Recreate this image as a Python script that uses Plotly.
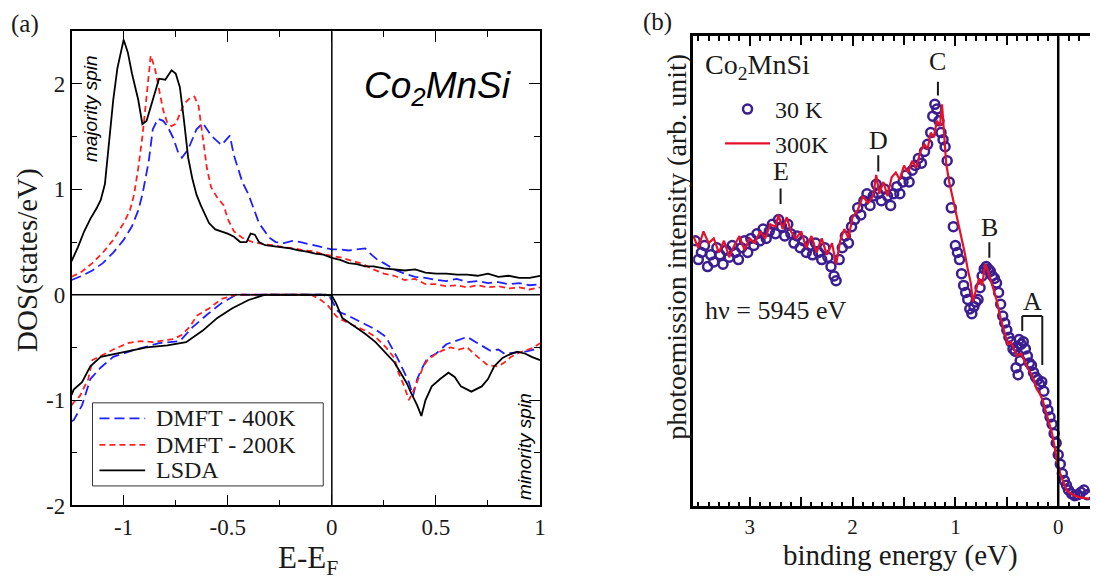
import plotly.graph_objects as go

# ---------------- Panel (a): DOS of Co2MnSi ----------------
# majority spin (positive DOS)
E_lsda_up = [-1.25,-1.22,-1.19,-1.16,-1.13,-1.11,-1.09,-1.07,-1.05,-1.03,-1.0,-0.98,-0.96,-0.93,-0.91,-0.89,-0.87,-0.85,-0.83,-0.80,-0.77,-0.75,-0.73,-0.71,-0.69,-0.67,-0.65,-0.63,-0.61,-0.59,-0.56,-0.53,-0.50,-0.47,-0.44,-0.41,-0.39,-0.37,-0.35,-0.32,-0.28,-0.24,-0.2,-0.16,-0.12,-0.08,-0.04,0.0,0.04,0.08,0.12,0.16,0.2,0.25,0.3,0.35,0.4,0.45,0.5,0.55,0.6,0.65,0.7,0.75,0.8,0.85,0.9,0.95,1.0]
dos_lsda_up = [0.32,0.45,0.6,0.72,0.82,0.9,1.05,1.45,1.85,2.15,2.42,2.3,2.1,1.85,1.62,1.65,1.78,1.92,2.05,2.04,2.13,2.1,1.97,1.65,1.3,1.1,0.95,0.85,0.76,0.68,0.62,0.6,0.58,0.55,0.5,0.5,0.58,0.57,0.5,0.47,0.46,0.45,0.44,0.42,0.41,0.39,0.38,0.35,0.33,0.3,0.29,0.27,0.27,0.25,0.24,0.23,0.24,0.21,0.2,0.2,0.19,0.19,0.18,0.2,0.17,0.18,0.16,0.16,0.18]

E_200_up = [-1.25,-1.2,-1.15,-1.1,-1.05,-1.0,-0.97,-0.95,-0.93,-0.91,-0.89,-0.87,-0.85,-0.83,-0.81,-0.79,-0.77,-0.75,-0.73,-0.71,-0.68,-0.66,-0.64,-0.62,-0.6,-0.58,-0.55,-0.52,-0.5,-0.47,-0.43,-0.38,-0.33,-0.28,-0.23,-0.18,-0.13,-0.08,-0.04,0.0,0.05,0.1,0.15,0.2,0.25,0.3,0.35,0.4,0.45,0.5,0.55,0.6,0.65,0.7,0.75,0.8,0.85,0.9,0.95,1.0]
dos_200_up = [0.17,0.22,0.3,0.4,0.52,0.68,0.8,0.95,1.2,1.5,1.88,2.27,2.15,1.94,1.75,1.63,1.6,1.62,1.72,1.81,1.87,1.88,1.79,1.5,1.2,1.02,0.92,0.85,0.72,0.6,0.54,0.5,0.48,0.47,0.45,0.44,0.42,0.41,0.38,0.37,0.35,0.32,0.29,0.24,0.2,0.18,0.14,0.15,0.1,0.1,0.08,0.09,0.07,0.09,0.07,0.08,0.06,0.07,0.05,0.07]

E_400_up = [-1.25,-1.2,-1.15,-1.1,-1.05,-1.0,-0.96,-0.93,-0.91,-0.88,-0.86,-0.835,-0.81,-0.79,-0.76,-0.74,-0.72,-0.69,-0.65,-0.62,-0.58,-0.55,-0.53,-0.49,-0.47,-0.43,-0.40,-0.35,-0.3,-0.27,-0.23,-0.19,-0.15,-0.11,-0.07,-0.03,0.0,0.04,0.08,0.12,0.16,0.19,0.22,0.25,0.3,0.35,0.4,0.45,0.5,0.55,0.6,0.65,0.7,0.75,0.8,0.85,0.9,0.95,1.0]
dos_400_up = [0.14,0.18,0.23,0.3,0.4,0.52,0.65,0.8,0.95,1.26,1.57,1.67,1.65,1.6,1.48,1.36,1.3,1.38,1.57,1.63,1.51,1.45,1.42,1.51,1.32,1.07,0.95,0.68,0.54,0.5,0.49,0.51,0.5,0.48,0.46,0.44,0.43,0.43,0.42,0.43,0.44,0.38,0.33,0.3,0.24,0.2,0.17,0.16,0.14,0.13,0.15,0.12,0.13,0.11,0.12,0.1,0.11,0.09,0.1]

# minority spin (negative DOS)
E_lsda_dn = [-1.25,-1.24,-1.2,-1.16,-1.11,-1.06,-0.98,-0.89,-0.79,-0.70,-0.62,-0.55,-0.48,-0.40,-0.32,-0.2,-0.1,-0.03,0.0,0.02,0.05,0.1,0.16,0.21,0.26,0.3,0.33,0.36,0.38,0.41,0.43,0.45,0.48,0.52,0.56,0.59,0.62,0.67,0.72,0.75,0.78,0.82,0.85,0.89,0.93,0.96,1.0]
dos_lsda_dn = [-0.95,-0.9,-0.83,-0.68,-0.59,-0.57,-0.54,-0.5,-0.48,-0.45,-0.34,-0.22,-0.13,-0.05,0.0,0.0,0.0,0.0,-0.01,-0.08,-0.22,-0.29,-0.37,-0.45,-0.56,-0.64,-0.74,-0.84,-0.93,-1.05,-1.15,-1.0,-0.87,-0.8,-0.74,-0.78,-0.87,-0.92,-0.87,-0.8,-0.68,-0.6,-0.57,-0.54,-0.56,-0.59,-0.62]

E_200_dn = [-1.25,-1.24,-1.21,-1.17,-1.15,-1.1,-1.05,-0.98,-0.92,-0.86,-0.8,-0.76,-0.72,-0.68,-0.65,-0.59,-0.53,-0.46,-0.3,-0.1,-0.06,-0.02,0.02,0.03,0.08,0.16,0.21,0.26,0.3,0.32,0.35,0.37,0.39,0.415,0.44,0.46,0.5,0.53,0.57,0.61,0.65,0.7,0.75,0.8,0.83,0.86,0.9,0.93,0.97,1.0]
dos_200_dn = [-1.05,-1.02,-0.96,-0.8,-0.62,-0.57,-0.52,-0.46,-0.44,-0.45,-0.43,-0.42,-0.38,-0.3,-0.2,-0.13,-0.04,0.0,0.0,0.0,-0.04,-0.1,-0.2,-0.22,-0.27,-0.34,-0.4,-0.5,-0.6,-0.74,-0.88,-1.0,-0.92,-0.8,-0.68,-0.62,-0.56,-0.53,-0.5,-0.52,-0.5,-0.59,-0.67,-0.68,-0.64,-0.59,-0.55,-0.53,-0.5,-0.46]

E_400_dn = [-1.25,-1.24,-1.2,-1.16,-1.11,-1.05,-0.96,-0.83,-0.73,-0.67,-0.6,-0.53,-0.46,-0.3,-0.1,-0.05,-0.01,0.03,0.08,0.16,0.21,0.26,0.32,0.37,0.39,0.41,0.43,0.46,0.5,0.55,0.59,0.62,0.65,0.7,0.76,0.8,0.83,0.88,0.93,0.97,1.0]
dos_400_dn = [-1.2,-1.19,-1.05,-0.8,-0.69,-0.59,-0.53,-0.46,-0.44,-0.31,-0.19,-0.08,0.0,0.0,0.0,0.0,-0.02,-0.16,-0.2,-0.28,-0.33,-0.4,-0.62,-0.83,-0.96,-0.8,-0.71,-0.6,-0.56,-0.47,-0.44,-0.42,-0.4,-0.46,-0.53,-0.52,-0.56,-0.55,-0.54,-0.52,-0.5]

series_names_a = ["DMFT - 400K", "DMFT - 200K", "LSDA"]

# ---------------- Panel (b): HAXPES spectra ----------------
E_300K = [3.55,3.50,3.45,3.40,3.35,3.30,3.25,3.20,3.15,3.10,3.05,3.00,2.95,2.90,2.85,2.80,2.75,2.72,2.68,2.64,2.60,2.55,2.50,2.45,2.40,2.35,2.30,2.25,2.20,2.16,2.12,2.08,2.04,2.00,1.95,1.90,1.85,1.80,1.77,1.74,1.70,1.66,1.62,1.58,1.54,1.50,1.46,1.42,1.38,1.34,1.30,1.27,1.24,1.21,1.18,1.15,1.13,1.11,1.09,1.06,1.03,1.00,0.97,0.94,0.91,0.88,0.85,0.83,0.80,0.77,0.74,0.71,0.69,0.66,0.63,0.60,0.56,0.52,0.49,0.46,0.43,0.40,0.36,0.33,0.30,0.27,0.24,0.21,0.18,0.15,0.12,0.09,0.06,0.03,0.01,-0.02,-0.05,-0.08,-0.12,-0.16,-0.20,-0.25,-0.30]
I_300K = [57.5,55.0,58.5,56.0,57.0,54.0,56.5,53.0,55.5,57.5,54.5,57.0,56.0,58.5,57.0,60.0,59.5,62.0,59.0,61.5,58.5,57.0,58.5,55.0,57.5,54.0,57.0,53.5,56.0,51.5,56.5,59.0,57.0,61.5,63.0,66.0,64.5,66.0,70.5,66.5,69.0,66.0,70.0,71.0,69.5,72.5,71.0,73.5,72.0,75.5,77.0,76.0,79.5,78.5,82.0,81.0,85.5,80.0,73.0,69.0,66.0,63.0,60.0,57.5,54.0,50.5,47.5,43.5,46.0,48.5,47.0,51.5,50.5,48.5,46.0,44.0,40.0,37.0,34.5,35.0,33.5,32.0,32.5,31.0,29.5,28.5,27.0,25.0,24.0,22.5,20.0,18.0,15.5,12.0,9.5,7.0,5.0,3.5,2.8,2.3,2.0,1.8,1.6]

E_30K = [3.53,3.50,3.47,3.44,3.41,3.38,3.35,3.32,3.29,3.26,3.23,3.20,3.17,3.14,3.11,3.08,3.05,3.02,2.99,2.96,2.93,2.90,2.87,2.84,2.81,2.78,2.75,2.72,2.69,2.66,2.63,2.60,2.57,2.54,2.51,2.48,2.45,2.42,2.39,2.36,2.33,2.30,2.27,2.24,2.21,2.18,2.16,2.13,2.10,2.07,2.04,2.01,1.98,1.95,1.92,1.89,1.86,1.83,1.80,1.77,1.75,1.72,1.69,1.66,1.63,1.60,1.57,1.54,1.51,1.48,1.45,1.42,1.39,1.36,1.33,1.30,1.27,1.24,1.22,1.20,1.18,1.16,1.14,1.12,1.10,1.08,1.06,1.04,1.02,1.00,0.98,0.96,0.94,0.92,0.90,0.88,0.86,0.84,0.82,0.80,0.78,0.76,0.74,0.72,0.70,0.68,0.66,0.64,0.62,0.60,0.58,0.56,0.54,0.52,0.50,0.48,0.46,0.44,0.42,0.41,0.40,0.39,0.38,0.37,0.36,0.34,0.32,0.30,0.28,0.26,0.24,0.22,0.20,0.18,0.16,0.14,0.12,0.10,0.08,0.06,0.04,0.02,0.00,-0.02,-0.04,-0.06,-0.08,-0.10,-0.13,-0.16,-0.19,-0.22,-0.25,-0.28]
I_30K = [56.5,52.5,54.0,55.5,51.0,53.5,52.0,55.0,53.5,51.5,54.5,53.0,55.5,54.0,52.5,55.0,56.5,54.0,57.0,55.5,58.0,56.5,59.0,57.0,58.5,60.0,58.0,61.0,59.5,57.5,60.0,58.0,56.0,57.5,55.0,56.5,54.0,55.5,53.5,56.0,54.0,52.5,55.0,53.0,51.0,49.0,48.0,52.5,55.0,57.5,56.0,59.5,61.0,63.5,62.0,65.0,66.5,64.0,66.0,68.5,66.5,65.0,67.5,66.0,64.0,66.5,68.0,66.5,69.0,70.5,69.0,71.5,72.5,74.0,73.0,75.5,77.0,79.5,83.0,85.5,84.5,82.0,79.5,78.0,76.5,73.5,69.0,63.5,59.5,55.5,54.0,52.5,49.5,47.0,45.5,44.0,42.0,41.0,42.5,43.5,44.0,46.5,49.0,50.5,51.0,50.5,50.0,49.0,48.5,47.5,45.5,43.0,40.5,39.0,37.5,36.0,35.0,33.5,33.0,29.5,34.0,28.0,35.5,31.0,34.5,35.0,33.5,32.0,30.5,30.0,28.5,27.5,27.0,26.0,26.5,24.5,22.0,20.5,19.0,17.5,15.5,13.5,11.0,9.0,7.0,5.5,4.5,3.5,2.7,2.3,2.5,3.0,3.5,2.5]

# peak labels (binding energy, label height)
peak_names = ["E", "D", "C", "B"]
peak_E = [2.70, 1.75, 1.17, 0.67]
peak_I = [71.2, 77.8, 94.6, 59.3]

SERIF = "Liberation Serif, Times New Roman, Times, serif"
SANS = "Liberation Sans, Arial, Helvetica, sans-serif"
INK = "#1a1a1a"

W, H = 1096, 584
def px(xp):
    return xp / W
def py(yp):
    return (H - yp) / H

BLUE = "#2020ff"
RED = "#ff2020"
styles_a = [dict(color=BLUE, width=1.8, dash="10px,5px"),
            dict(color=RED, width=1.8, dash="6px,4px"),
            dict(color="black", width=1.8)]

fig = go.Figure()

# Panel (a) traces
for xs, ys, st in [(E_400_up, dos_400_up, styles_a[0]), (E_200_up, dos_200_up, styles_a[1]),
                   (E_lsda_up, dos_lsda_up, styles_a[2]), (E_400_dn, dos_400_dn, styles_a[0]),
                   (E_200_dn, dos_200_dn, styles_a[1]), (E_lsda_dn, dos_lsda_dn, styles_a[2])]:
    fig.add_trace(go.Scatter(x=xs, y=ys, mode="lines", line=st, showlegend=False,
                             xaxis="x", yaxis="y"))

# Panel (b) traces
fig.add_trace(go.Scatter(x=E_30K, y=I_30K, mode="markers", name="30 K",
                         marker=dict(symbol="circle-open", size=9, color="#3b1f8f",
                                     line=dict(width=2.5, color="#3b1f8f")),
                         xaxis="x2", yaxis="y2", legend="legend2"))
fig.add_trace(go.Scatter(x=E_300K, y=I_300K, mode="lines", name="300K",
                         line=dict(color="#e4112b", width=2.2),
                         xaxis="x2", yaxis="y2", legend="legend2"))

shapes = [
    # panel (a) zero lines
    dict(type="line", xref="x", yref="y", x0=-1.25, x1=1, y0=0, y1=0, line=dict(color="black", width=1.5)),
    dict(type="line", xref="x", yref="y domain", x0=0, x1=0, y0=0, y1=1, line=dict(color="black", width=1.5)),
    # panel (b) Fermi level line
    dict(type="line", xref="x2", yref="y2 domain", x0=0, x1=0, y0=0, y1=1, line=dict(color="black", width=2.5)),
    # A bracket
    dict(type="line", xref="x2", yref="y2", x0=0.35, x1=0.155, y0=40.5, y1=40.5, line=dict(color=INK, width=2)),
    dict(type="line", xref="x2", yref="y2", x0=0.35, x1=0.35, y0=40.5, y1=37.3, line=dict(color=INK, width=2)),
    dict(type="line", xref="x2", yref="y2", x0=0.155, x1=0.155, y0=40.5, y1=30.1, line=dict(color=INK, width=2)),
    # panel (a) legend box
    dict(type="rect", xref="paper", yref="paper", x0=px(93), x1=px(325), y0=py(497), y1=py(412),
         line=dict(color="#333", width=1), fillcolor="white", layer="above"),
]
# panel (a) legend line samples
legend_rows_y = [428, 455, 481]
for st, yy in zip(styles_a, legend_rows_y):
    shapes.append(dict(type="line", xref="paper", yref="paper", x0=px(100), x1=px(146), y0=py(yy), y1=py(yy),
                       line=st, layer="above"))
# peak tick marks
tick_lo = [64.3, 71.2, 87.4, 52.9]
tick_hi = [67.6, 74.7, 90.3, 56.2]
for e, lo, hi in zip(peak_E, tick_lo, tick_hi):
    shapes.append(dict(type="line", xref="x2", yref="y2", x0=e, x1=e, y0=lo, y1=hi,
                       line=dict(color=INK, width=2)))

annotations = [
    dict(text="(a)", x=px(9), y=py(25), xref="paper", yref="paper", xanchor="left", yanchor="middle",
         showarrow=False, font=dict(family=SERIF, size=25, color=INK)),
    dict(text="(b)", x=px(645), y=py(23), xref="paper", yref="paper", xanchor="left", yanchor="middle",
         showarrow=False, font=dict(family=SERIF, size=25, color=INK)),
    dict(text="<i>Co<sub>2</sub>MnSi</i>", x=px(440), y=py(90), xref="paper", yref="paper",
         xanchor="center", yanchor="middle", showarrow=False, font=dict(family=SANS, size=37, color="black")),
    dict(text="<i>majority spin</i>", x=px(91), y=py(111), xref="paper", yref="paper", textangle=-90,
         xanchor="center", yanchor="middle", showarrow=False, font=dict(family=SANS, size=19, color="black")),
    dict(text="<i>minority spin</i>", x=px(528), y=py(457), xref="paper", yref="paper", textangle=-90,
         xanchor="center", yanchor="middle", showarrow=False, font=dict(family=SANS, size=19, color="black")),
    dict(text="DOS(states/eV)", x=px(27), y=py(266), xref="paper", yref="paper", textangle=-90,
         xanchor="center", yanchor="middle", showarrow=False, font=dict(family=SERIF, size=29, color=INK)),
    dict(text="E-E<sub>F</sub>", x=px(310), y=py(573), xref="paper", yref="paper",
         xanchor="center", yanchor="middle", showarrow=False, font=dict(family=SERIF, size=31, color=INK)),
    dict(text="photoemission intensity (arb. unit)", x=px(680), y=py(252), xref="paper", yref="paper",
         textangle=-90, xanchor="center", yanchor="middle", showarrow=False,
         font=dict(family=SERIF, size=28, color=INK)),
    dict(text="binding energy (eV)", x=px(905), y=py(568), xref="paper", yref="paper",
         xanchor="center", yanchor="middle", showarrow=False, font=dict(family=SERIF, size=29, color=INK)),
    dict(text="Co<sub>2</sub>MnSi", x=px(707), y=py(68), xref="paper", yref="paper",
         xanchor="left", yanchor="middle", showarrow=False, font=dict(family=SERIF, size=28, color=INK)),
    dict(text="hν = 5945 eV", x=3.45, y=41.7, xref="x2", yref="y2", xanchor="left", yanchor="middle",
         showarrow=False, font=dict(family=SERIF, size=26, color=INK)),
    dict(text="A", x=0.25, y=43.6, xref="x2", yref="y2", xanchor="center", yanchor="middle",
         showarrow=False, font=dict(family=SERIF, size=26, color=INK)),
]
for name, e, i in zip(peak_names, peak_E, peak_I):
    annotations.append(dict(text=name, x=e, y=i, xref="x2", yref="y2", xanchor="center", yanchor="middle",
                            showarrow=False, font=dict(family=SERIF, size=26, color=INK)))
# panel (a) legend labels
for name, yy in zip(series_names_a, legend_rows_y):
    annotations.append(dict(text=name, x=px(155), y=py(yy), xref="paper", yref="paper",
                            xanchor="left", yanchor="middle", showarrow=False,
                            font=dict(family=SERIF, size=24, color=INK)))

fig.update_layout(
    width=W, height=H,
    margin=dict(l=0, r=0, t=0, b=0),
    paper_bgcolor="white", plot_bgcolor="white",
    font=dict(family=SERIF, color=INK),
    showlegend=True,
    xaxis=dict(domain=[px(72), px(543)], range=[-1.25, 1], anchor="y",
               tickmode="array", tickvals=[-1, -0.5, 0, 0.5, 1], ticktext=["-1", "-0.5", "0", "0.5", "1"],
               ticks="inside", ticklen=11, tickwidth=1.3, tickcolor="black",
               minor=dict(tickmode="array", tickvals=[-0.75, -0.25, 0.25, 0.75], ticks="inside",
                          ticklen=6, tickwidth=1.3, tickcolor="black"),
               showline=True, linewidth=1.5, linecolor="black", mirror="ticks",
               showgrid=False, zeroline=False,
               tickfont=dict(family=SERIF, size=23, color=INK)),
    yaxis=dict(domain=[py(517), py(32)], range=[-2, 2.5], anchor="x",
               tickmode="array", tickvals=[-2, -1, 0, 1, 2], ticktext=["-2", "-1", "0", "1", "2"],
               ticks="inside", ticklen=11, tickwidth=1.3, tickcolor="black",
               minor=dict(tickmode="array", tickvals=[-1.5, -0.5, 0.5, 1.5], ticks="inside",
                          ticklen=6, tickwidth=1.3, tickcolor="black"),
               showline=True, linewidth=1.5, linecolor="black", mirror="ticks",
               showgrid=False, zeroline=False,
               tickfont=dict(family=SERIF, size=23, color=INK)),
    xaxis2=dict(domain=[px(697), 1.0], range=[3.55, -0.309], anchor="y2",
                tickmode="array", tickvals=[3, 2, 1, 0], ticktext=["3", "2", "1", "0"],
                ticks="inside", ticklen=10, tickwidth=2, tickcolor="black",
                minor=dict(dtick=0.1, tick0=0, ticks="inside", ticklen=5, tickwidth=1.8, tickcolor="black"),
                showline=True, linewidth=2.5, linecolor="black", mirror="ticks",
                showgrid=False, zeroline=False,
                tickfont=dict(family=SERIF, size=21, color=INK)),
    # half-eV tick marks (unlabelled), drawn by an overlaid axis
    xaxis3=dict(domain=[px(697), 1.0], range=[3.55, -0.309], anchor="y2", overlaying="x2",
                tickmode="array", tickvals=[2.5, 1.5, 0.5], showticklabels=False,
                ticks="inside", ticklen=9, tickwidth=2, tickcolor="black",
                showline=False, mirror="ticks", showgrid=False, zeroline=False),
    yaxis2=dict(domain=[py(518), py(37)], range=[0, 100], anchor="x2",
                showticklabels=False, ticks="", showline=True, linewidth=2.5, linecolor="black",
                mirror=False, showgrid=False, zeroline=False),
    legend2=dict(x=px(724), y=py(89), xanchor="left", yanchor="top",
                 bgcolor="rgba(0,0,0,0)", borderwidth=0,
                 font=dict(family=SERIF, size=24, color=INK), itemwidth=45, tracegroupgap=0),
    shapes=shapes,
    annotations=annotations,
)
# dummy invisible trace so the overlaid axis is drawn
fig.add_trace(go.Scatter(x=[None], y=[None], xaxis="x3", yaxis="y2", showlegend=False, hoverinfo="skip"))

fig.write_html("out.html")
